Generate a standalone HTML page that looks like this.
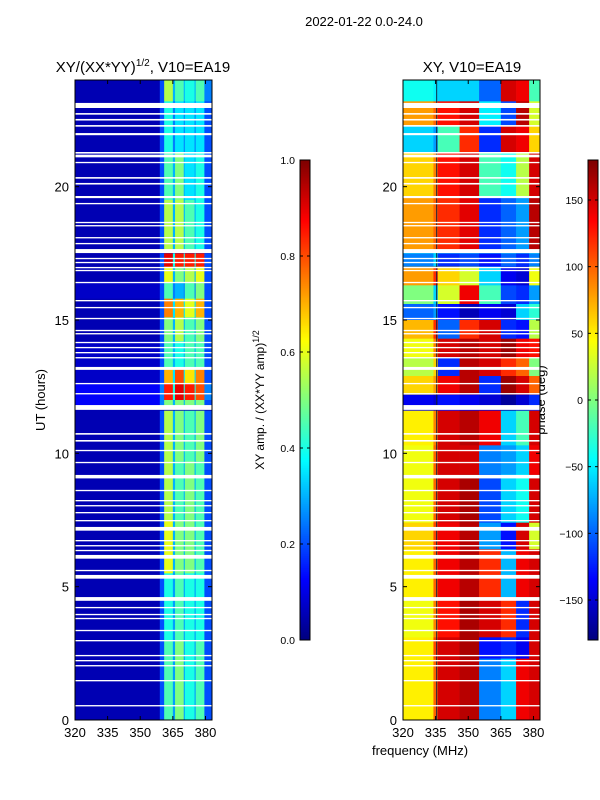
<!DOCTYPE html>
<html><head><meta charset="utf-8"><style>
body{margin:0;background:#fff;}
svg{display:block;font-family:"Liberation Sans",sans-serif;}
</style></head><body>
<svg id="fig" width="600" height="800" viewBox="0 0 600 800">
<text x="364" y="26" font-size="13" text-anchor="middle">2022-01-22 0.0-24.0</text>
<text x="143" y="72" font-size="15" text-anchor="middle">XY/(XX*YY)<tspan font-size="10" dy="-6">1/2</tspan><tspan dy="6">, V10=EA19</tspan></text>
<text x="472" y="72" font-size="15" text-anchor="middle">XY, V10=EA19</text>
<text x="420" y="755" font-size="13" text-anchor="middle">frequency (MHz)</text>
<text transform="translate(45,400) rotate(-90)" font-size="13" text-anchor="middle">UT (hours)</text>
<text transform="translate(264,400) rotate(-90)" font-size="12" text-anchor="middle">XY amp. / (XX*YY amp)<tspan font-size="9" dy="-5">1/2</tspan></text>
<text transform="translate(545,400) rotate(-90)" font-size="13" text-anchor="middle">phase (deg)</text>
<g id="L"></g>
<g id="R"></g>
<g id="CB"></g>
</svg>
<script>
// ---- data ----
const ampBands = [320,359,361,365,366,370,370.5,375,375.5,379.5,383];
const ampBlockTimes = [[24,23.2],[23.2,21.3],[21.3,19.5],[19.5,17.6],[17.5,17.0],[17.0,16.4],[16.4,15.8],[15.8,15.1],[15.1,14.2],[14.2,13.2],[13.2,12.6],[12.6,12.0],[12.0,11.8],[11.6,9.7],[9.7,7.5],[7.5,5.5],[5.5,3.0],[3.0,0]];
const ampValues = [
 [0.05,0.2,0.55,0.3,0.45,0.3,0.4,0.3,0.45,0.25],
 [0.05,0.2,0.4,0.25,0.35,0.25,0.35,0.25,0.35,0.2],
 [0.05,0.2,0.45,0.3,0.5,0.3,0.35,0.3,0.4,0.2],
 [0.05,0.2,0.55,0.3,0.55,0.3,0.45,0.3,0.4,0.2],
 [0.05,0.2,0.9,0.4,0.85,0.4,0.85,0.4,0.85,0.2],
 [0.05,0.2,0.6,0.3,0.5,0.3,0.55,0.3,0.6,0.2],
 [0.07,0.2,0.45,0.25,0.3,0.25,0.45,0.25,0.5,0.2],
 [0.05,0.2,0.75,0.35,0.7,0.35,0.6,0.35,0.7,0.2],
 [0.05,0.2,0.5,0.3,0.55,0.3,0.45,0.3,0.5,0.2],
 [0.07,0.2,0.45,0.3,0.4,0.3,0.45,0.3,0.45,0.2],
 [0.07,0.2,0.7,0.35,0.8,0.35,0.65,0.35,0.75,0.2],
 [0.12,0.25,0.85,0.4,0.9,0.4,0.85,0.4,0.8,0.25],
 [0.12,0.25,0.5,0.3,0.5,0.3,0.5,0.3,0.5,0.2],
 [0.05,0.2,0.55,0.3,0.5,0.3,0.45,0.3,0.5,0.2],
 [0.05,0.2,0.55,0.3,0.45,0.3,0.5,0.3,0.45,0.2],
 [0.05,0.2,0.6,0.3,0.5,0.3,0.5,0.3,0.45,0.2],
 [0.05,0.2,0.4,0.28,0.45,0.28,0.4,0.28,0.4,0.2],
 [0.05,0.2,0.45,0.28,0.5,0.28,0.4,0.28,0.45,0.2]
];
const phaseBands = [320,334,336,346,355,365,372,378,383];
const phaseBlockTimes = [[24,23.2],[23.2,22.3],[22.3,21.3],[21.3,19.6],[19.6,17.6],[17.5,17.0],[17.0,16.3],[16.3,15.6],[15.6,15.0],[15.0,14.3],[14.3,13.6],[13.6,12.9],[12.9,12.2],[12.2,11.6],[11.6,10.3],[10.3,9.2],[9.2,7.4],[7.4,6.4],[6.4,4.6],[4.6,3.1],[3.1,2.3],[2.3,0]];
const phaseValues = [
 [-40,-50,-60,-60,-100,150,140,-20],
 [80,100,130,150,-50,-110,160,30],
 [-60,-80,-20,120,-120,150,140,60],
 [60,90,130,150,-20,-40,20,150],
 [80,100,120,145,-120,-100,-80,160],
 [-90,-60,-120,-110,-130,-100,-120,-90],
 [80,120,60,30,-60,-140,-150,40],
 [0,-60,30,140,-20,-110,-120,-80],
 [-100,-80,-130,-160,-140,-150,-60,-30],
 [70,120,-100,120,150,-120,-130,20],
 [40,90,150,160,150,170,140,130],
 [20,60,-120,160,150,120,100,0],
 [60,80,140,160,-120,170,150,100],
 [-140,-150,-130,-140,-150,-170,-150,-120],
 [50,90,150,160,140,-60,-20,150],
 [40,100,150,150,-90,-80,-60,140],
 [40,100,150,165,-110,-60,-40,150],
 [60,110,140,160,-80,-130,150,30],
 [50,100,140,160,120,-70,140,150],
 [40,90,130,165,150,120,-120,150],
 [50,110,150,165,-130,-120,-140,150],
 [50,100,150,160,-90,-60,140,150]
];
const flaggedTimes = [[23.14,22.95],[22.76,22.7],[22.54,22.48],[22.31,22.25],[22.01,21.93],[21.3,21.24],[21.2,21.1],[20.93,20.88],[20.36,20.3],[20.14,20.08],[19.65,19.57],[19.39,19.34],[18.68,18.63],[18.56,18.51],[18.11,18.06],[17.89,17.84],[17.66,17.51],[17.33,17.28],[17.18,17.13],[16.99,16.94],[16.88,16.83],[16.43,16.38],[15.75,15.7],[15.49,15.44],[15.08,15.03],[14.63,14.58],[14.51,14.46],[14.18,14.13],[13.99,13.94],[13.8,13.75],[13.61,13.56],[13.24,13.13],[12.64,12.59],[12.26,12.21],[11.81,11.63],[10.76,10.7],[10.5,10.44],[10.13,10.08],[9.68,9.63],[9.19,9.06],[8.63,8.58],[8.25,8.2],[8.06,8.01],[7.8,7.75],[7.5,7.45],[7.24,7.1],[6.75,6.7],[6.56,6.51],[6.38,6.33],[6.19,6.05],[5.63,5.58],[5.44,5.3],[4.61,4.47],[4.24,4.19],[3.98,3.93],[3.83,3.78],[3.38,3.33],[3.0,2.95],[2.44,2.39],[2.25,2.2],[2.06,2.01],[1.5,1.45],[0.56,0.51]];
const xTicks = [320,335,350,365,380];
const yTicks = [0,5,10,15,20];
const ampCbTicks = [0.0,0.2,0.4,0.6,0.8,1.0];
const phaseCbTicks = [-150,-100,-50,0,50,100,150];

// ---- helpers ----
const NS="http://www.w3.org/2000/svg";
function jet(v){v=Math.max(0,Math.min(1,v));
 const r=Math.max(0,Math.min(1,1.5-Math.abs(4*v-3)));
 const g=Math.max(0,Math.min(1,1.5-Math.abs(4*v-2)));
 const b=Math.max(0,Math.min(1,1.5-Math.abs(4*v-1)));
 return `rgb(${Math.round(r*255)},${Math.round(g*255)},${Math.round(b*255)})`;}
function mk(tag,attrs,parent){const e=document.createElementNS(NS,tag);for(const k in attrs)e.setAttribute(k,attrs[k]);parent.appendChild(e);return e;}
const Y0=720,Y1=80;
function yS(t){return Y0-(t/24)*(Y0-Y1);}
function makeX(x0){return f=>x0+(f-320)/(383-320)*137;}

function panel(gid,x0,bands,times,vals,norm,lineXs){
 const g=document.getElementById(gid);const xS=makeX(x0);
 mk('rect',{x:x0,y:Y1,width:137,height:640,fill:jet(norm(vals[0][0]))},g);
 times.forEach((tt,i)=>{
  for(let j=0;j<bands.length-1;j++){
   const r=mk('rect',{x:xS(bands[j]),y:yS(tt[0]),width:xS(bands[j+1])-xS(bands[j])+0.3,height:yS(tt[1])-yS(tt[0])+0.3,fill:jet(norm(vals[i][j]))},g);
   
   
  }
 });
 lineXs.forEach(f=>mk('line',{x1:xS(f),x2:xS(f),y1:Y1,y2:Y0,stroke:'#102040','stroke-width':1},g));
 flaggedTimes.forEach(ft=>{
  const r=mk('rect',{x:x0,y:yS(ft[0]),width:137,height:Math.max(1.3,yS(ft[1])-yS(ft[0])),fill:'#fff'},g);
  
  
 });
 mk('rect',{x:x0,y:Y1,width:137,height:640,fill:'none',stroke:'#000','stroke-width':1},g);
 xTicks.forEach(f=>{const x=xS(f);
  mk('line',{x1:x,x2:x,y1:Y0,y2:Y0-4,stroke:'#000'},g);
  mk('line',{x1:x,x2:x,y1:Y1,y2:Y1+4,stroke:'#000'},g);
  const t=mk('text',{x:x,y:Y0+17,'font-size':13,'text-anchor':'middle'},g);t.textContent=f;
  
  
 });
 yTicks.forEach(h=>{const y=yS(h);
  mk('line',{x1:x0,x2:x0+4,y1:y,y2:y,stroke:'#000'},g);
  mk('line',{x1:x0+137,x2:x0+133,y1:y,y2:y,stroke:'#000'},g);
  const t=mk('text',{x:x0-6,y:y+5,'font-size':13,'text-anchor':'end'},g);t.textContent=h;
  
  
 });
}
panel('L',75,ampBands,ampBlockTimes,ampValues,v=>v,[]);
panel('R',403,phaseBands,phaseBlockTimes,phaseValues,v=>(v+180)/360,[335.5]);

function colorbar(x,ticks,lo,hi,fmt){
 const g=document.getElementById('CB');
 for(let i=0;i<240;i++){const v=i/239;
  mk('rect',{x:x,y:640-(i+1)*2,width:10,height:2.3,fill:jet(v)},g);}
 mk('rect',{x:x,y:160,width:10,height:480,fill:'none',stroke:'#000','stroke-width':1},g);
 ticks.forEach(tv=>{const y=640-(tv-lo)/(hi-lo)*480;
  mk('line',{x1:x,x2:x+3,y1:y,y2:y,stroke:'#000'},g);
  mk('line',{x1:x+10,x2:x+7,y1:y,y2:y,stroke:'#000'},g);
  const t=mk('text',{x:x-5,y:y+4,'font-size':10.5,'text-anchor':'end'},g);t.textContent=fmt(tv);
  
  
 });
}
colorbar(300,ampCbTicks,0,1,v=>v.toFixed(1));
colorbar(588,phaseCbTicks,-180,180,v=>v<0?'\u2212'+(-v):String(v));
</script>
</body></html>
